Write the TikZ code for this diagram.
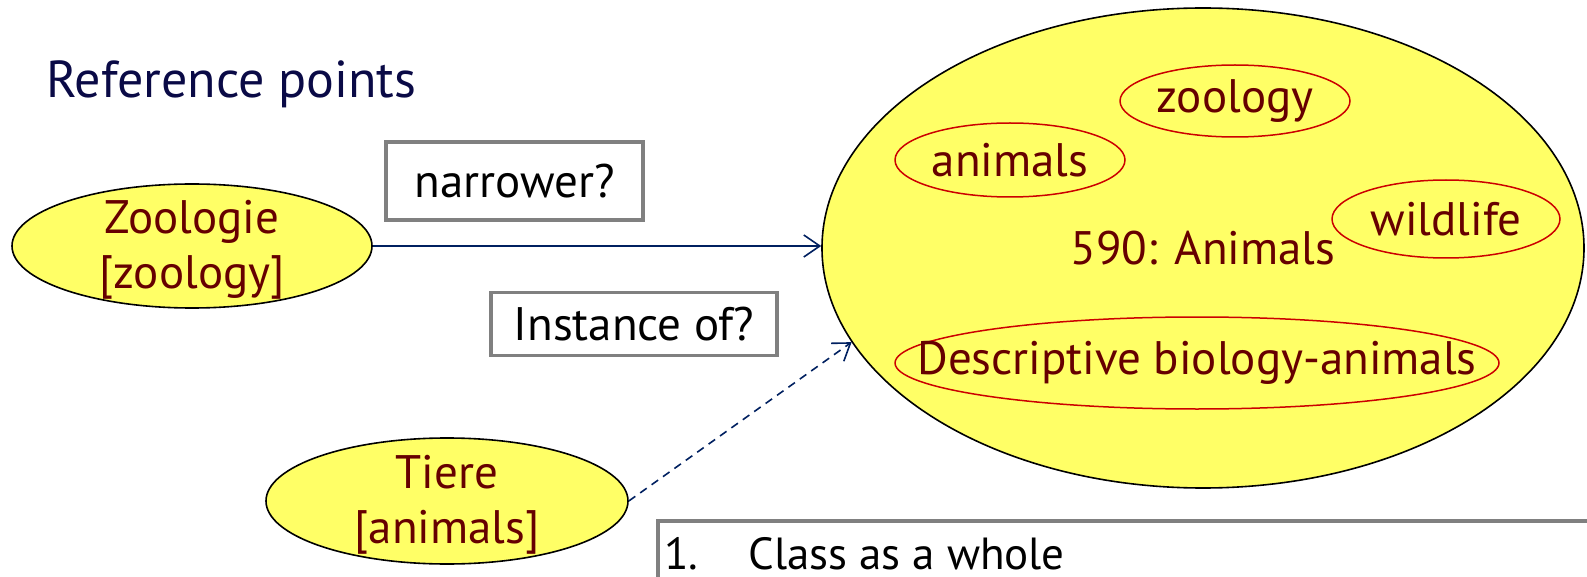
\documentclass[tikz,border=0pt]{standalone}
\usepackage{fontspec}
\setmainfont{PT Sans}
\usetikzlibrary{shapes.geometric,arrows.meta}
\definecolor{termfill}{RGB}{255,255,102}
\definecolor{termtext}{RGB}{102,0,0}
\definecolor{tagred}{RGB}{204,0,0}
\definecolor{navy}{RGB}{0,32,96}
\definecolor{titleblue}{RGB}{10,10,70}
\definecolor{boxgray}{RGB}{128,128,128}

\begin{document}
\begin{tikzpicture}[x=1pt,y=-1pt,
  term/.style={ellipse, draw=black, line width=1.6pt, fill=termfill, inner sep=0pt},
  tag/.style={ellipse, draw=tagred, line width=1.5pt, inner sep=0pt},
  termtxt/.style={text=termtext, inner sep=0pt, align=center, font=\fontsize{47}{55}\selectfont},
  qbox/.style={rectangle, draw=boxgray, line width=3.5pt, fill=white, inner sep=0pt},
  qtxt/.style={text=black, inner sep=0pt, font=\fontsize{47}{55}\selectfont},
  rel/.style={draw=navy, line width=1.6pt, -{Straight Barb[length=16pt,width=22pt]}}
]
\clip (0,0) rectangle (1587,577);

% heading
\node[anchor=base west, inner sep=0pt, text=titleblue,
      font=\fontsize{52}{62}\selectfont] (title) at (46,98) {Reference points};

% subject headings
\node[term, minimum width=360pt, minimum height=124pt] (zoo) at (192,246) {};
\node[termtxt] (zootxt) at ([yshift=-4pt]zoo.center) {Zoologie\\{}[zoology]};
\node[term, minimum width=362pt, minimum height=126pt] (tiere) at (447,501) {};
\node[termtxt] (tieretxt) at ([yshift=-4pt]tiere.center) {Tiere\\{}[animals]};

% class 590 with its terms
\node[term, minimum width=762pt, minimum height=480pt] (cls) at (1203,248) {};
\node[termtxt] (clstxt) at (cls.center) {590: Animals};
\node[tag, minimum width=230pt, minimum height=72pt] (tzoo) at (1235,101) {};
\node[termtxt] at (tzoo.center) {zoology};
\node[tag, minimum width=230pt, minimum height=74pt] (tani) at (1010,160) {};
\node[termtxt] at (tani.center) {animals};
\node[tag, minimum width=228pt, minimum height=78pt] (twild) at (1446,219) {};
\node[termtxt] at (twild.center) {wildlife};
\node[tag, minimum width=604pt, minimum height=92pt] (tdesc) at (1197,363) {};
\node[termtxt] at (tdesc.center) {Descriptive biology-animals};

% question boxes
\node[qbox, minimum width=257pt, minimum height=78pt] (qnarrow) at (514.5,181) {};
\node[qtxt] at (qnarrow.center) {narrower?};
\node[qbox, minimum width=286pt, minimum height=63pt] (qinst) at (634,324) {};
\node[qtxt] at (qinst.center) {Instance of?};

% relations
\draw[rel] (zoo.east) -- (zoo.east -| cls.west);
\draw[rel, dash pattern=on 8pt off 6pt] (tiere.east) -- (cls.195);

% notes panel
\node[qbox, anchor=north west, minimum width=1000pt, minimum height=120pt] (notes) at (656,519) {};
\node[anchor=base west, inner sep=0pt, font=\fontsize{45}{52}\selectfont] (note1) at (664,569)
  {1.\hspace{50pt}Class as a whole};
\end{tikzpicture}
\end{document}
